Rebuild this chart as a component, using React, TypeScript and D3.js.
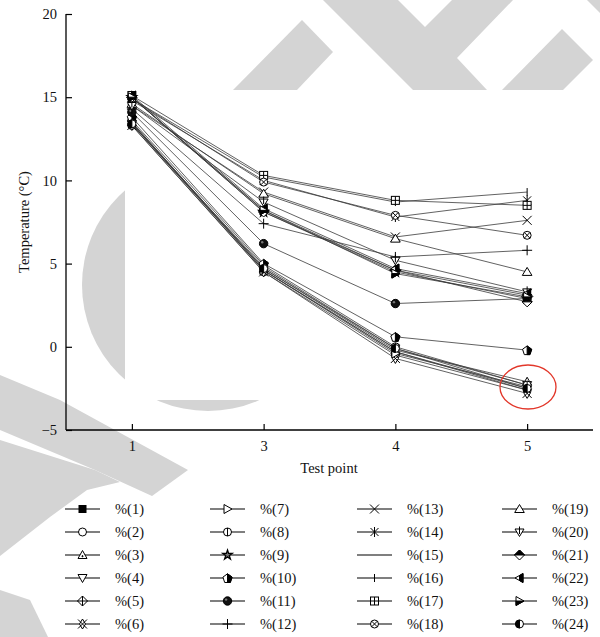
import React, { useEffect, useRef } from 'react';
import * as d3 from 'd3';

// test points on the x axis
const testPoints = ['1', '3', '4', '5'];
const yTicks = [-5, 0, 5, 10, 15, 20];

// temperature (°C) per series at test points 1, 3, 4, 5
const s1 = [13.4, 4.6, -0.3, -2.5];
const s2 = [13.3, 4.5, -0.5, -2.6];
const s3 = [13.5, 4.7, -0.2, -2.1];
const s4 = [13.4, 4.8, -0.1, -2.3];
const s5 = [15.0, 8.2, 4.6, 3.1];
const s6 = [13.3, 4.5, -0.7, -2.8];
const s7 = [13.5, 4.6, -0.4, -2.4];
const s8 = [13.6, 4.9, 0.0, -2.3];
const s9 = [15.0, 8.1, 4.5, 2.9];
const s10 = [13.8, 5.0, 0.6, -0.2];
const s11 = [14.1, 6.2, 2.6, 2.9];
const s12 = [14.3, 7.4, 5.4, 5.8];
const s13 = [14.5, 9.3, 6.6, 7.6];
const s14 = [14.8, 10.0, 7.8, 8.8];
const s15 = [13.4, 4.6, -0.3, -2.6];
const s16 = [14.9, 10.2, 8.7, 9.3];
const s17 = [15.1, 10.3, 8.8, 8.5];
const s18 = [14.9, 9.9, 7.9, 6.7];
const s19 = [14.6, 9.2, 6.5, 4.5];
const s20 = [14.5, 8.7, 5.2, 3.3];
const s21 = [15.0, 8.1, 4.6, 2.7];
const s22 = [15.1, 8.3, 4.7, 3.2];
const s23 = [15.0, 8.2, 4.4, 3.0];
const s24 = [13.4, 4.7, -0.1, -2.5];

const seriesValues = [s1, s2, s3, s4, s5, s6, s7, s8, s9, s10, s11, s12,
  s13, s14, s15, s16, s17, s18, s19, s20, s21, s22, s23, s24];
const seriesNames = seriesValues.map((_, i) => '%(' + (i + 1) + ')');
const markerKinds = ['sqFill', 'circ', 'triDot', 'triDown', 'diaPlus', 'xDia',
  'triRight', 'circBar', 'star', 'pentHalf', 'sphere', 'plus',
  'cross', 'aster', 'none', 'bar', 'sqPlus', 'circX',
  'triUp', 'triDownBar', 'diaTop', 'triLeftHalf', 'triRightHalf', 'circHalf'];

const FONT = '"Liberation Serif", "DejaVu Serif", serif';
const GREY = '#d4d4d4';

function drawMarker(g, kind, x, y) {
  const m = g.append('g').attr('transform', 'translate(' + x + ',' + y + ')')
    .attr('stroke', '#000').attr('stroke-width', 1).attr('fill', '#fff');
  const r = 4;
  const tri = (pts) => m.append('path').attr('d', 'M' + pts.map(p => p.join(',')).join('L') + 'Z');
  const ln = (x1, y1, x2, y2) => m.append('line').attr('x1', x1).attr('y1', y1).attr('x2', x2).attr('y2', y2);
  switch (kind) {
    case 'sqFill':
      m.append('rect').attr('x', -3.5).attr('y', -3.5).attr('width', 7).attr('height', 7).attr('fill', '#000');
      break;
    case 'circ':
      m.append('circle').attr('r', r);
      break;
    case 'triDot':
      tri([[0, -4.5], [4.5, 3.5], [-4.5, 3.5]]);
      m.append('circle').attr('r', 0.6).attr('cy', 1.2).attr('fill', '#000');
      break;
    case 'triDown':
      tri([[-4.5, -3.5], [4.5, -3.5], [0, 4.5]]);
      break;
    case 'diaPlus':
      tri([[0, -5], [5, 0], [0, 5], [-5, 0]]);
      ln(-5, 0, 5, 0); ln(0, -5, 0, 5);
      break;
    case 'xDia':
      tri([[0, -5], [3, 0], [0, 5], [-3, 0]]);
      ln(-4.5, -4.5, 4.5, 4.5); ln(-4.5, 4.5, 4.5, -4.5);
      break;
    case 'triRight':
      tri([[-3.5, -4.5], [4.5, 0], [-3.5, 4.5]]);
      break;
    case 'circBar':
      m.append('circle').attr('r', r);
      ln(0, -4, 0, 4);
      break;
    case 'star':
      m.append('path').attr('d', d3.symbol(d3.symbolStar, 28)()).attr('stroke-width', 1.3).attr('fill', '#777');
      break;
    case 'pentHalf': {
      const pts = d3.range(5).map(i => {
        const a = -Math.PI / 2 + i * 2 * Math.PI / 5;
        return [4.8 * Math.cos(a), 4.8 * Math.sin(a) + 0.6];
      });
      tri(pts);
      m.append('path').attr('d', 'M0,' + pts[0][1] + 'L' + pts[1].join(',') + 'L' + pts[2].join(',') + 'L0,' + pts[2][1] + 'Z').attr('fill', '#000');
      break;
    }
    case 'sphere':
      m.append('circle').attr('r', 4.2).attr('fill', '#111');
      m.append('circle').attr('r', 1.2).attr('cx', -1.4).attr('cy', -1.4).attr('fill', '#777').attr('stroke', 'none');
      break;
    case 'plus':
      ln(-5, 0, 5, 0); ln(0, -5, 0, 5);
      break;
    case 'cross':
      ln(-4.5, -4.5, 4.5, 4.5); ln(-4.5, 4.5, 4.5, -4.5);
      break;
    case 'aster':
      ln(-4, -4, 4, 4); ln(-4, 4, 4, -4); ln(0, -5, 0, 5);
      break;
    case 'bar':
      ln(0, -4, 0, 4);
      break;
    case 'sqPlus':
      m.append('rect').attr('x', -4).attr('y', -4).attr('width', 8).attr('height', 8);
      ln(-4, 0, 4, 0); ln(0, -4, 0, 4);
      break;
    case 'circX':
      m.append('circle').attr('r', r);
      ln(-2.8, -2.8, 2.8, 2.8); ln(-2.8, 2.8, 2.8, -2.8);
      break;
    case 'triUp':
      tri([[0, -4.5], [4.8, 3.5], [-4.8, 3.5]]);
      break;
    case 'triDownBar':
      tri([[-4.5, -3], [4.5, -3], [0, 4.5]]);
      ln(0, -5.5, 0, 2);
      break;
    case 'diaTop':
      tri([[0, -5], [5, 0], [0, 5], [-5, 0]]);
      m.append('path').attr('d', 'M-5,0L0,-5L5,0Z').attr('fill', '#000');
      break;
    case 'triLeftHalf':
      tri([[-4.5, 0], [3.5, -4.5], [3.5, 4.5]]);
      m.append('path').attr('d', 'M0,-2.5L3.5,-4.5L3.5,4.5L0,2.5Z').attr('fill', '#000');
      break;
    case 'triRightHalf':
      tri([[-3.5, -4.5], [4.5, 0], [-3.5, 4.5]]);
      m.append('path').attr('d', 'M-3.5,0L4.5,0L-3.5,4.5Z').attr('fill', '#000');
      break;
    case 'circHalf':
      m.append('circle').attr('r', r);
      m.append('path').attr('d', 'M0,-4A4,4 0 0 0 0,4Z').attr('fill', '#000');
      break;
    default:
      break;
  }
}

export default function App() {
  const ref = useRef(null);

  useEffect(() => {
    const svg = d3.select(ref.current);
    svg.selectAll('*').remove();

    // background watermark
    const wm = svg.append('g').attr('fill', GREY);
    const polys = [
      [[233, 90], [302, 20], [333, 52], [297, 90]],
      [[323, 0], [398, 0], [425, 27], [452, 0], [513, 0], [457, 58], [487, 90], [413, 90]],
      [[502, 90], [562, 29], [593, 60], [533, 120], [533, 90]],
      [[587, 0], [600, 0], [600, 13]],
      [[0, 375], [60, 400], [188, 470], [152, 496], [95, 470], [0, 430]],
      [[0, 440], [95, 470], [120, 482], [87, 490], [50, 517], [0, 556]],
      [[0, 590], [30, 600], [48, 637], [0, 637]],
    ];
    polys.forEach(p => wm.append('path').attr('d', 'M' + p.map(q => q.join(',')).join('L') + 'Z'));
    wm.append('circle').attr('cx', 208).attr('cy', 285).attr('r', 126);
    svg.append('rect').attr('x', 125).attr('y', 90).attr('width', 475).attr('height', 310).attr('fill', '#fff');

    const x = d3.scalePoint().domain(testPoints).range([66, 593]).padding(0.5);
    const y = d3.scaleLinear().domain([-5, 20]).range([430, 14]);

    // y axis
    const yAxis = svg.append('g')
      .attr('transform', 'translate(66,0)')
      .call(d3.axisRight(y).tickValues(yTicks).tickSize(6).tickFormat(d => d < 0 ? '\u2212' + Math.abs(d) : String(d)));
    yAxis.select('.domain').attr('d', 'M0,14V430').attr('stroke-width', 1.3);
    yAxis.selectAll('.tick line').attr('stroke-width', 1.2);
    yAxis.selectAll('.tick text').attr('x', -9).attr('text-anchor', 'end')
      .style('font-family', FONT).style('font-size', '14.5px').attr('fill', '#111');

    // x axis
    const xAxis = svg.append('g')
      .attr('transform', 'translate(0,430)')
      .call(d3.axisTop(x).tickSize(6));
    xAxis.select('.domain').attr('d', 'M66,0H593').attr('stroke-width', 1.3);
    xAxis.selectAll('.tick line').attr('stroke-width', 1.2);
    xAxis.selectAll('.tick text').attr('y', 21).attr('dy', 0)
      .style('font-family', FONT).style('font-size', '14.5px').attr('fill', '#111');

    svg.append('text').attr('x', 329).attr('y', 473).attr('text-anchor', 'middle')
      .style('font-family', FONT).style('font-size', '14.5px').attr('fill', '#111').text('Test point');
    svg.append('text').attr('transform', 'translate(29,222) rotate(-90)').attr('text-anchor', 'middle')
      .style('font-family', FONT).style('font-size', '14.5px').attr('fill', '#111').text('Temperature (°C)');

    // series lines
    const line = d3.line().x((d, i) => x(testPoints[i])).y(d => y(d));
    const lines = svg.append('g').attr('fill', 'none').attr('stroke', '#3a3a3a').attr('stroke-width', 0.8);
    seriesValues.forEach(vals => lines.append('path').attr('d', line(vals)));

    const marks = svg.append('g');
    seriesValues.forEach((vals, k) => {
      vals.forEach((v, i) => drawMarker(marks, markerKinds[k], x(testPoints[i]), y(v)));
    });

    // highlight ellipse
    svg.append('ellipse').attr('cx', 528).attr('cy', 387).attr('rx', 28).attr('ry', 22)
      .attr('fill', 'none').attr('stroke', '#e2372a').attr('stroke-width', 1.3);

    // legend
    const colX = [65, 210, 357, 502];
    const legend = svg.append('g');
    seriesNames.forEach((name, k) => {
      const lx = colX[Math.floor(k / 6)];
      const ly = 509 + (k % 6) * 23;
      legend.append('line').attr('x1', lx).attr('x2', lx + 35).attr('y1', ly).attr('y2', ly)
        .attr('stroke', '#000').attr('stroke-width', 1.2);
      drawMarker(legend, markerKinds[k], lx + 17.5, ly);
      legend.append('text').attr('x', lx + 50).attr('y', ly + 5)
        .style('font-family', FONT).style('font-size', '14.5px').attr('fill', '#111').text(name);
    });
  }, []);

  return (
    <svg ref={ref} width={600} height={637}
      style={{ position: 'absolute', left: 0, top: 0, background: '#fff' }} />
  );
}
